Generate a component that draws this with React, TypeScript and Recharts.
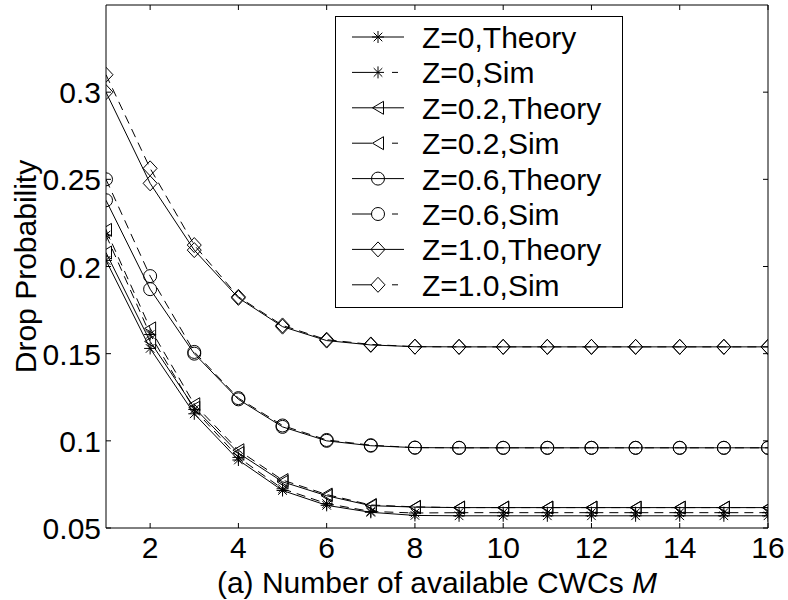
import React from "react";
import { LineChart, Line, XAxis, YAxis, Legend, Label } from "recharts";

const M = [1, 2, 3, 4, 5, 6, 7, 8, 9, 10, 11, 12, 13, 14, 15, 16];

const z0Theory = [0.2035, 0.153, 0.1155, 0.089, 0.0715, 0.063, 0.059, 0.0572, 0.057, 0.057, 0.057, 0.057, 0.057, 0.057, 0.057, 0.057];
const z0Sim = [0.218, 0.161, 0.118, 0.0905, 0.0725, 0.064, 0.0595, 0.0586, 0.0588, 0.0588, 0.0588, 0.0588, 0.0588, 0.0588, 0.0588, 0.0588];
const z02Theory = [0.208, 0.157, 0.119, 0.093, 0.0765, 0.0685, 0.0628, 0.062, 0.0617, 0.0617, 0.0617, 0.0617, 0.0617, 0.0617, 0.0617, 0.0617];
const z02Sim = [0.221, 0.1645, 0.121, 0.0946, 0.0775, 0.0692, 0.0632, 0.0621, 0.0617, 0.0617, 0.0617, 0.0617, 0.0617, 0.0617, 0.0617, 0.0617];
const z06Theory = [0.238, 0.187, 0.15, 0.1238, 0.108, 0.1, 0.0972, 0.0961, 0.096, 0.096, 0.096, 0.096, 0.096, 0.096, 0.096, 0.096];
const z06Sim = [0.25, 0.1945, 0.151, 0.1245, 0.1088, 0.1005, 0.0975, 0.0961, 0.096, 0.096, 0.096, 0.096, 0.096, 0.096, 0.096, 0.096];
const z1Theory = [0.3, 0.2477, 0.2094, 0.182, 0.1655, 0.1575, 0.155, 0.154, 0.1539, 0.1539, 0.1539, 0.1539, 0.1539, 0.1539, 0.1539, 0.1539];
const z1Sim = [0.31, 0.2563, 0.2123, 0.1826, 0.1662, 0.158, 0.1553, 0.154, 0.1539, 0.1539, 0.1539, 0.1539, 0.1539, 0.1539, 0.1539, 0.1539];

const X_TICKS = [2, 4, 6, 8, 10, 12, 14, 16];
const Y_TICKS = [0.05, 0.1, 0.15, 0.2, 0.25, 0.3];

const FONT = "'Liberation Sans', Arial, sans-serif";
const FS = 30;

type Kind = "star" | "tri" | "circle" | "diamond";

const series: { key: string; name: string; kind: Kind; dashed: boolean; values: number[] }[] = [
  { key: "z0t", name: "Z=0,Theory", kind: "star", dashed: false, values: z0Theory },
  { key: "z0s", name: "Z=0,Sim", kind: "star", dashed: true, values: z0Sim },
  { key: "z02t", name: "Z=0.2,Theory", kind: "tri", dashed: false, values: z02Theory },
  { key: "z02s", name: "Z=0.2,Sim", kind: "tri", dashed: true, values: z02Sim },
  { key: "z06t", name: "Z=0.6,Theory", kind: "circle", dashed: false, values: z06Theory },
  { key: "z06s", name: "Z=0.6,Sim", kind: "circle", dashed: true, values: z06Sim },
  { key: "z1t", name: "Z=1.0,Theory", kind: "diamond", dashed: false, values: z1Theory },
  { key: "z1s", name: "Z=1.0,Sim", kind: "diamond", dashed: true, values: z1Sim },
];

const data = M.map((m, i) => {
  const row: Record<string, number> = { m };
  series.forEach((s) => {
    row[s.key] = s.values[i];
  });
  return row;
});

function Marker({ kind, cx, cy }: { kind: Kind; cx: number; cy: number }) {
  if (cx == null || cy == null) return null;
  const st = { stroke: "#000", strokeWidth: 1, fill: "none" };
  if (kind === "star") {
    const d = 6;
    const e = 4.3;
    return (
      <g {...st}>
        <line x1={cx} y1={cy - d} x2={cx} y2={cy + d} />
        <line x1={cx - d} y1={cy} x2={cx + d} y2={cy} />
        <line x1={cx - e} y1={cy - e} x2={cx + e} y2={cy + e} />
        <line x1={cx - e} y1={cy + e} x2={cx + e} y2={cy - e} />
      </g>
    );
  }
  if (kind === "tri") {
    return <polygon {...st} points={`${cx - 5.5},${cy} ${cx + 5.5},${cy - 6.5} ${cx + 5.5},${cy + 6.5}`} />;
  }
  if (kind === "circle") {
    return <circle {...st} cx={cx} cy={cy} r={6.5} />;
  }
  return <polygon {...st} points={`${cx - 7},${cy} ${cx},${cy - 7.5} ${cx + 7},${cy} ${cx},${cy + 7.5}`} />;
}

const BottomTick = (props: any) => {
  const { x, y, payload } = props;
  return (
    <g>
      <line x1={x} y1={y} x2={x} y2={y - 5} stroke="#000" />
      <text x={x} y={y + 30} textAnchor="middle" fontSize={FS} fontFamily={FONT} fill="#000">
        {payload.value}
      </text>
    </g>
  );
};

const TopTick = (props: any) => {
  const { x, y } = props;
  return <line x1={x} y1={y} x2={x} y2={y + 5} stroke="#000" />;
};

const LeftTick = (props: any) => {
  const { x, y, payload } = props;
  return (
    <g>
      <line x1={x} y1={y} x2={x + 5} y2={y} stroke="#000" />
      <text x={x - 5} y={y + 11} textAnchor="end" fontSize={FS} fontFamily={FONT} fill="#000">
        {String(payload.value)}
      </text>
    </g>
  );
};

const RightTick = (props: any) => {
  const { x, y } = props;
  return <line x1={x} y1={y} x2={x - 5} y2={y} stroke="#000" />;
};

function LegendBox() {
  const w = 288;
  const h = 292;
  return (
    <svg width={w} height={h} style={{ display: "block" }}>
      <rect x={0.5} y={0.5} width={w - 1} height={h - 1} fill="#fff" stroke="#000" />
      {series.map((s, i) => {
        const cy = 21 + i * 35.4;
        return (
          <g key={s.key}>
            {s.dashed ? (
              <>
                <line x1={17} y1={cy} x2={37} y2={cy} stroke="#000" />
                <line x1={57} y1={cy} x2={63} y2={cy} stroke="#000" />
              </>
            ) : (
              <line x1={17} y1={cy} x2={69} y2={cy} stroke="#000" />
            )}
            <Marker kind={s.kind} cx={43} cy={cy} />
            <text x={87} y={cy + 11} fontSize={FS} fontFamily={FONT} fill="#000">
              {s.name}
            </text>
          </g>
        );
      })}
    </svg>
  );
}

export default function App() {
  return (
    <div style={{ position: "absolute", left: 0, top: 0, width: 788, height: 600, background: "#fff" }}>
      <LineChart width={788} height={600} data={data} margin={{ top: 4, right: 19, bottom: 0, left: 0 }}>
        <XAxis
          dataKey="m"
          type="number"
          domain={[1, 16]}
          ticks={X_TICKS}
          height={72}
          tickSize={0}
          tickMargin={0}
          tick={<BottomTick />}
          axisLine={{ stroke: "#000" }}
          allowDataOverflow
        >
          <Label
            content={(p: any) => {
              const vb = p.viewBox;
              return (
                <text x={vb.x + vb.width / 2} y={vb.y + 65} textAnchor="middle" fontSize={FS} fontFamily={FONT} fill="#000">
                  (a) Number of available CWCs <tspan fontStyle="italic">M</tspan>
                </text>
              );
            }}
          />
        </XAxis>
        {/* box: top axis with inner ticks, no labels */}
        <XAxis
          xAxisId="top"
          orientation="top"
          dataKey="m"
          type="number"
          domain={[1, 16]}
          ticks={X_TICKS}
          height={1}
          tickSize={0}
          tickMargin={0}
          tick={<TopTick />}
          axisLine={{ stroke: "#000" }}
          allowDataOverflow
        />
        <YAxis
          type="number"
          domain={[0.05, 0.35]}
          ticks={Y_TICKS}
          width={106}
          tickSize={0}
          tickMargin={0}
          tick={<LeftTick />}
          axisLine={{ stroke: "#000" }}
          allowDataOverflow
        >
          <Label
            content={(p: any) => {
              const vb = p.viewBox;
              const cx = vb.x + 25;
              const cy = vb.y + vb.height / 2;
              return (
                <text
                  x={cx}
                  y={cy}
                  transform={`rotate(-90 ${cx} ${cy})`}
                  textAnchor="middle"
                  dominantBaseline="central"
                  fontSize={FS}
                  fontFamily={FONT}
                  fill="#000"
                >
                  Drop Probability
                </text>
              );
            }}
          />
        </YAxis>
        {/* box: right axis with inner ticks, no labels */}
        <YAxis
          yAxisId="right"
          orientation="right"
          type="number"
          domain={[0.05, 0.35]}
          ticks={Y_TICKS}
          width={1}
          tickSize={0}
          tickMargin={0}
          tick={<RightTick />}
          axisLine={{ stroke: "#000" }}
          allowDataOverflow
        />
        <Legend
          layout="vertical"
          align="center"
          verticalAlign="middle"
          wrapperStyle={{ left: 335, top: 16, width: 288, height: 292 }}
          content={() => <LegendBox />}
        />
        <Line
          xAxisId="top"
          yAxisId="right"
          dataKey="z1t"
          stroke="none"
          dot={false}
          activeDot={false}
          legendType="none"
          isAnimationActive={false}
        />
        {series.map((s) => (
          <Line
            key={s.key}
            dataKey={s.key}
            name={s.name}
            type="linear"
            stroke="#000"
            strokeWidth={1}
            strokeDasharray={s.dashed ? "9 6" : undefined}
            dot={(p: any) => <Marker key={`${s.key}-${p.index}`} kind={s.kind} cx={p.cx} cy={p.cy} />}
            activeDot={false}
            isAnimationActive={false}
          />
        ))}
      </LineChart>
    </div>
  );
}
